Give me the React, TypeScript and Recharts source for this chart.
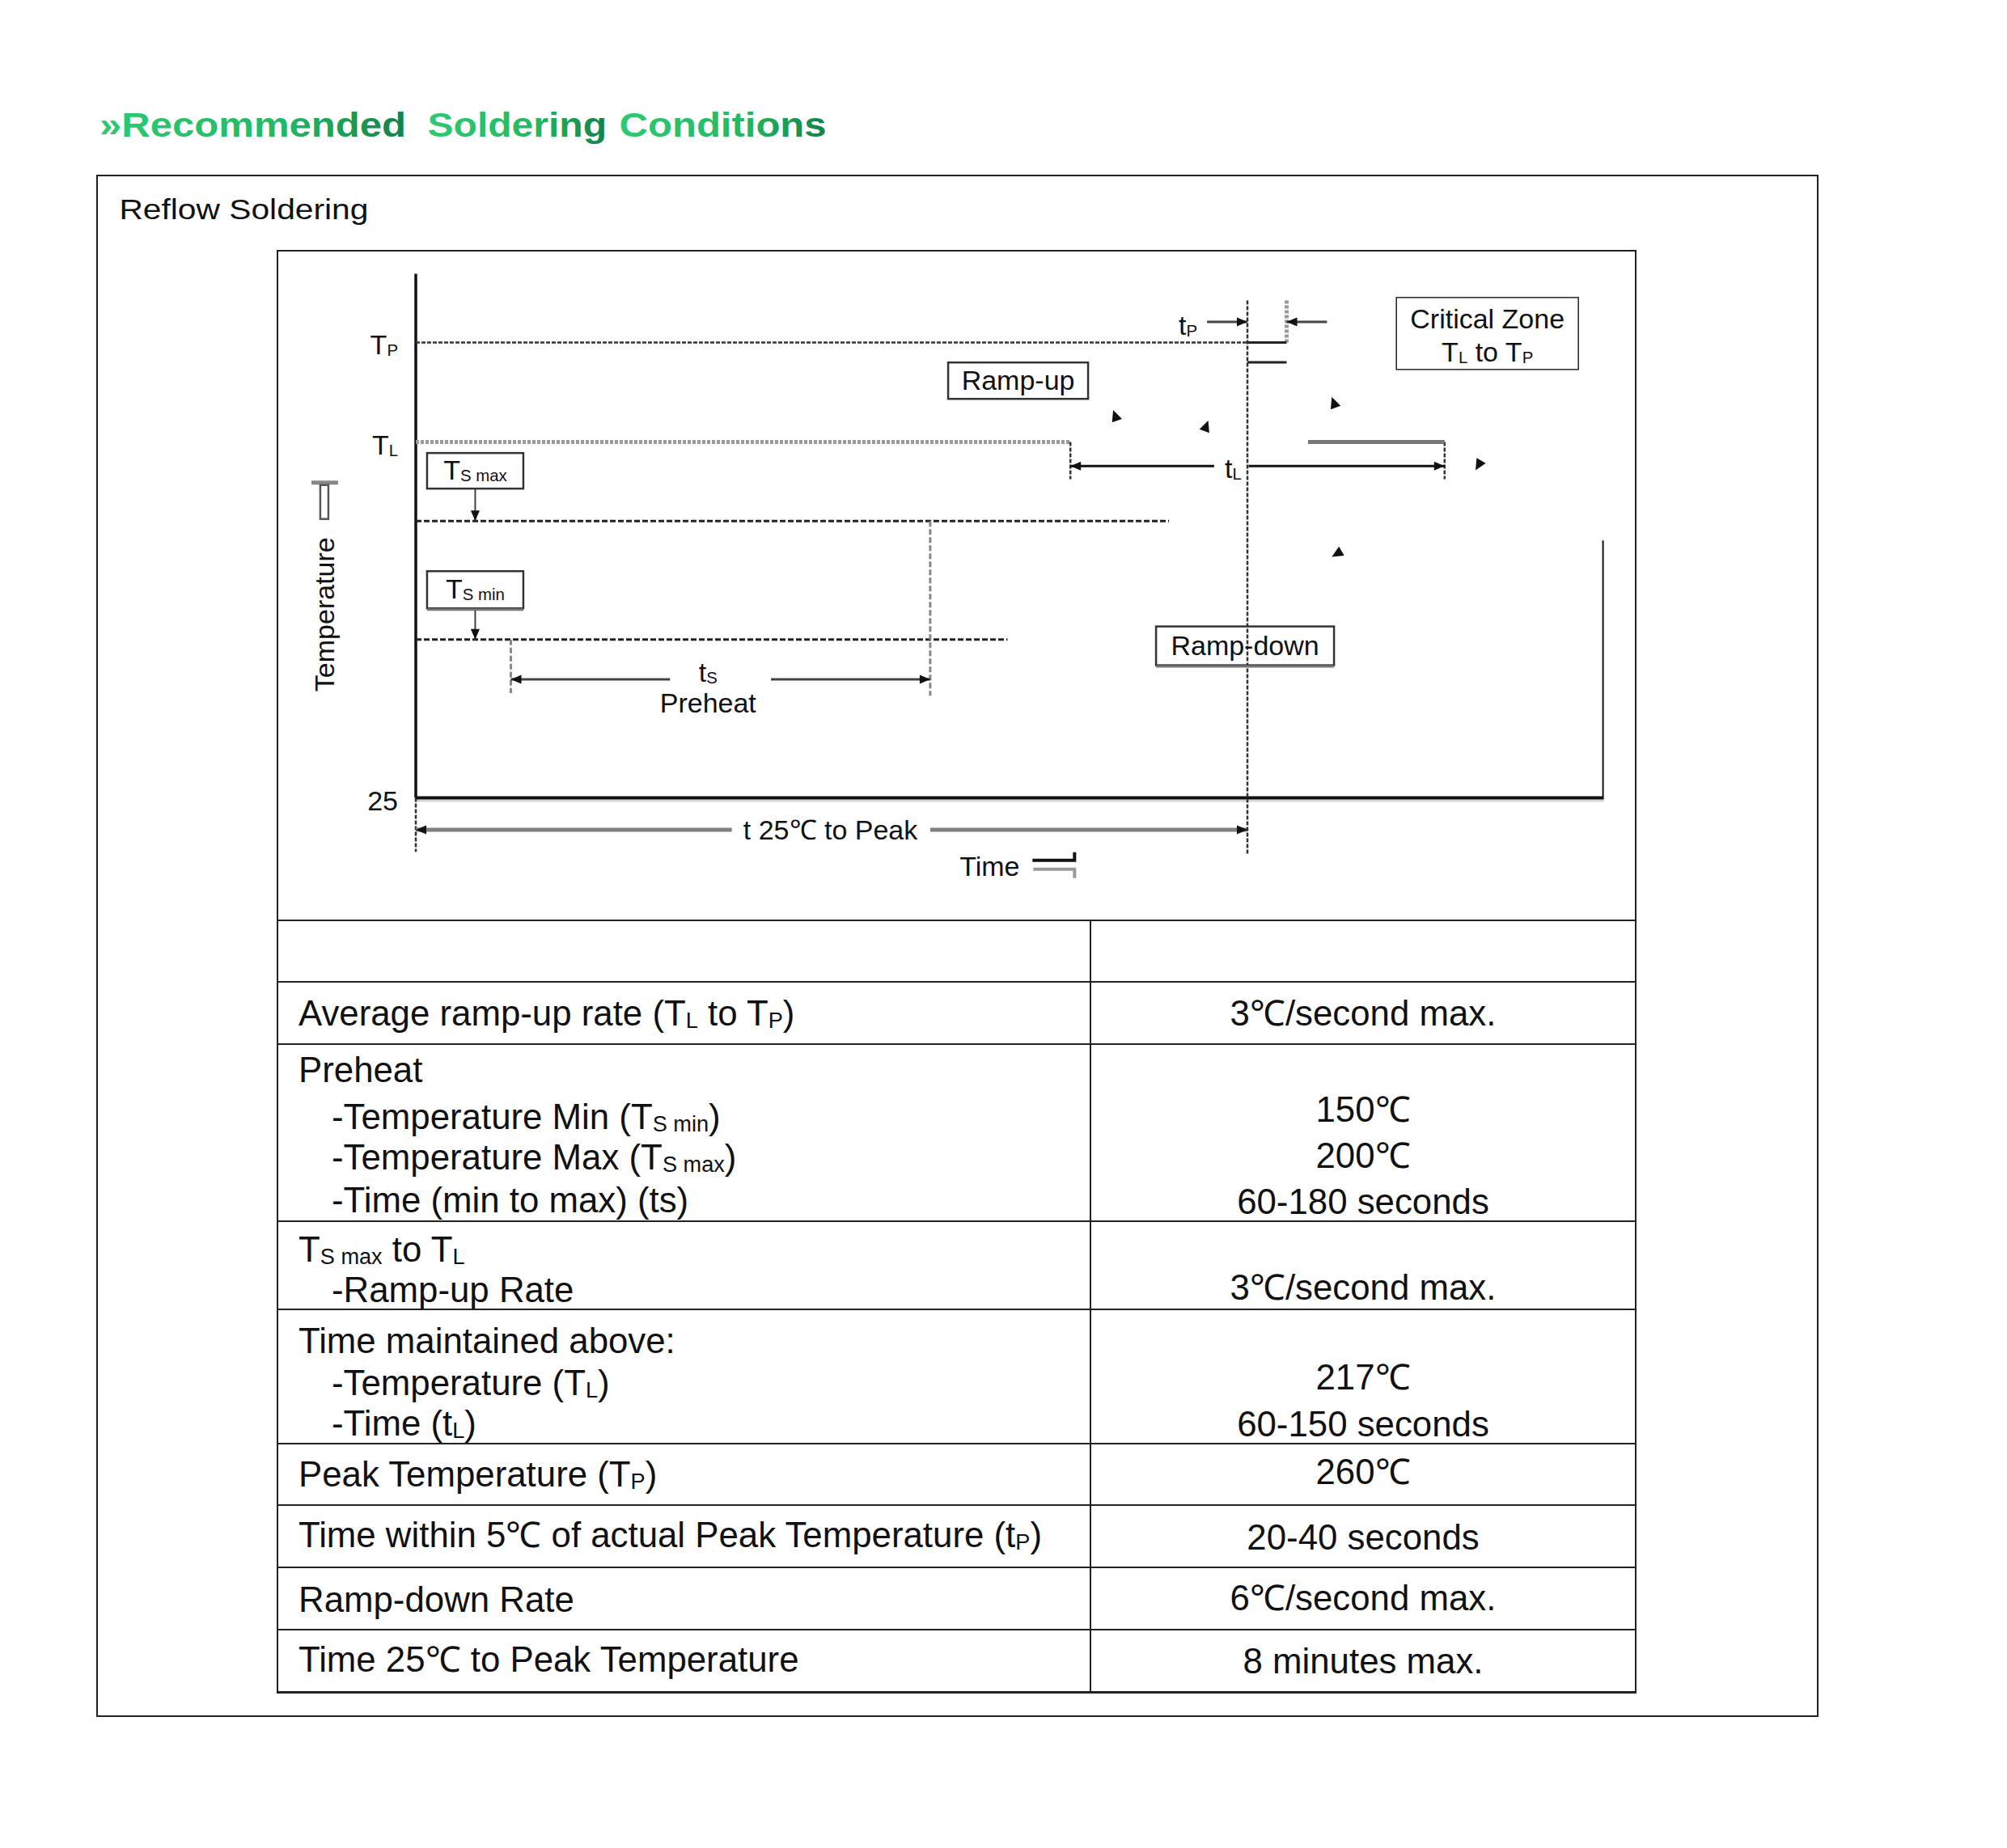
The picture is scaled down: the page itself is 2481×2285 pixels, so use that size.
import React from "react";
import { ComposedChart, Line, XAxis, YAxis, ReferenceLine, ReferenceDot } from "recharts";

const FONT = '"Liberation Sans", Arial, Helvetica, sans-serif';
const INK = "#111";
const CHART_FS = 34;
const TABLE_FS = 43.8;

// schematic profile: time runs 0..100 (0 = leaving 25℃), temperature 0 (25℃) .. 100 (top of axis)
const T_P = 86.9;
const T_L = 67.9;
const TS_MAX = 52.8;
const TS_MIN = 30.2;

const TS_START = 8.0;
const TS_END = 43.3;
const TL_START = 55.1;
const PEAK = 70.0;
const TP_END = 73.3;
const TL_END = 86.6;

const TEMP_TICKS = [0, T_L, T_P];
const TEMP_TICK_LABELS = [["25"], ["T", "_L"], ["T", "_P"]];

// baseline and right edge of the profile frame
const FRAME = [
  { t: 0, v: 0 },
  { t: 100, v: 0 },
  { t: 100, v: 49.1 },
];

// [x1, y1, x2, y2, style]
const GUIDES: [number, number, number, number, string][] = [
  [0, 0, 0, 100, "axis"],
  [0, T_P, PEAK, T_P, "fine"],
  [0, T_L, TL_START, T_L, "grayDot"],
  [0, TS_MAX, 63.4, TS_MAX, "bold"],
  [0, TS_MIN, 49.8, TS_MIN, "bold"],
  [TS_END, TS_MAX, TS_END, 19.5, "grayDash"],
  [TS_START, TS_MIN, TS_START, 20.0, "grayDash"],
  [TL_START, T_L, TL_START, 60.8, "fine"],
  [TL_END, T_L, TL_END, 60.8, "fine"],
  [TP_END, 94.9, TP_END, T_P, "grayDot"],
  [PEAK, T_P, TP_END, T_P, "solid"],
  [PEAK, 83.1, TP_END, 83.1, "solid"],
  [75.1, T_L, TL_END, T_L, "graySolid"],
  [5.0, 59.0, 5.0, TS_MAX, "pointer"],
  [5.0, 36.1, 5.0, TS_MIN, "pointer"],
  [0, 0, 0, -10.3, "fine"],
];

// peak line drawn last so it crosses the Ramp-down box
const PEAK_LINE: [number, number, number, number] = [PEAK, 94.9, PEAK, -10.7];

// dimension arrows: [y, from, to, gapStart, gapEnd, style]
const SPANS: [number, number, number, number, number, string][] = [
  [22.6, TS_START, TS_END, 21.4, 29.9, "dark"],
  [-6.1, 0, PEAK, 26.6, 43.3, "grayThick"],
  [63.3, TL_START, TL_END, 67.2, 70.1, "black"],
];

// tP inward arrows: [y, tail, tip]
const TP_ARROWS: [number, number, number][] = [
  [90.8, 66.6, PEAK],
  [90.8, 76.7, TP_END],
];

// loose arrowheads along the (missing) profile: [t, v, direction deg]
const STRAY_HEADS: [number, number, number][] = [
  [58.7, 74.0, 250],
  [66.7, 72.0, 290],
  [77.1, 76.5, 250],
  [89.2, 62.5, 120],
  [77.1, 46.0, 150],
];

const NOTES: { t: number; v: number; parts: string[] }[] = [
  { t: 24.6, v: 24.0, parts: ["t", "_S"] },
  { t: 24.6, v: 18.1, parts: ["Preheat"] },
  { t: 34.9, v: -6.1, parts: ["t 25℃ to Peak"] },
  { t: 68.8, v: 62.9, parts: ["t", "_L"] },
  { t: 65.0, v: 90.2, parts: ["t", "_P"] },
];

const BOXES: { id: string; t: number; v: number; parts: string[] }[] = [
  { id: "tsMax", t: 5.0, v: 62.4, parts: ["T", "_S max"] },
  { id: "tsMin", t: 5.0, v: 39.7, parts: ["T", "_S min"] },
  { id: "rampUp", t: 50.7, v: 79.6, parts: ["Ramp-up"] },
  { id: "rampDown", t: 69.8, v: 29.0, parts: ["Ramp-down"] },
];
const BOX_SIZE: Record<string, [number, number]> = {
  tsMax: [119, 44],
  tsMin: [119, 46],
  rampUp: [173, 45],
  rampDown: [220, 48],
};
const BOX_SHADOW = ["tsMin", "rampDown"];

const CRITICAL = { t: 90.2, v: 88.6 };
const CRITICAL_LINES = [["Critical Zone"], ["T", "_L", " to T", "_P"]];

const TIME_LABEL = { t: 48.3, v: -13.0 };
const TEMP_LABEL = { t: -7.7, v: 35.0 };

const STROKES: Record<string, any> = {
  axis: { stroke: "#111", strokeWidth: 3.5 },
  fine: { stroke: "#333", strokeWidth: 2.5, strokeDasharray: "5 2" },
  bold: { stroke: "#222", strokeWidth: 3, strokeDasharray: "7 3" },
  grayDot: { stroke: "#9a9a9a", strokeWidth: 5, strokeDasharray: "4 2" },
  grayDash: { stroke: "#888", strokeWidth: 3, strokeDasharray: "7 3" },
  solid: { stroke: "#222", strokeWidth: 3 },
  graySolid: { stroke: "#777", strokeWidth: 5 },
  pointer: { stroke: "#444", strokeWidth: 2 },
  dark: { stroke: "#444", strokeWidth: 3 },
  grayThick: { stroke: "#808080", strokeWidth: 5 },
  black: { stroke: "#111", strokeWidth: 3 },
  shadow: { stroke: "#d4d4d4", strokeWidth: 3 },
};

// table
const ROW_EDGES = [1138, 1214, 1291, 1510, 1619, 1785, 1861, 1938, 2015, 2092];
const TABLE_LEFT = [
  ["Average ramp-up rate (T", "_L", " to T", "_P", ")"],
  ["Preheat"],
  ["-Temperature Min (T", "_S min", ")"],
  ["-Temperature Max (T", "_S max", ")"],
  ["-Time (min to max) (ts)"],
  ["T", "_S max", " to T", "_L"],
  ["-Ramp-up Rate"],
  ["Time maintained above:"],
  ["-Temperature (T", "_L", ")"],
  ["-Time (t", "_L", ")"],
  ["Peak Temperature (T", "_P", ")"],
  ["Time within 5℃ of actual Peak Temperature (t", "_P", ")"],
  ["Ramp-down Rate"],
  ["Time 25℃ to Peak Temperature"],
];
const TABLE_LEFT_INDENT = [0, 0, 1, 1, 1, 0, 1, 0, 1, 1, 0, 0, 0, 0];
const TABLE_LEFT_Y = [1252, 1322, 1380, 1430, 1483, 1544, 1594, 1657, 1709, 1759, 1822, 1897, 1977, 2051];
const TABLE_RIGHT = [
  "3℃/second max.",
  "150℃",
  "200℃",
  "60-180 seconds",
  "3℃/second max.",
  "217℃",
  "60-150 seconds",
  "260℃",
  "20-40 seconds",
  "6℃/second max.",
  "8 minutes max.",
];
const TABLE_RIGHT_Y = [1252, 1371, 1428, 1485, 1591, 1702, 1760, 1819, 1900, 1975, 2053];

function richSvg(parts: string[], size: number) {
  let down = false;
  return parts.map((p, i) => {
    const sub = p.startsWith("_");
    const txt = sub ? p.slice(1) : p;
    let dy: number | undefined;
    if (sub && !down) {
      dy = 2;
      down = true;
    } else if (!sub && down) {
      dy = -2;
      down = false;
    }
    return (
      <tspan key={i} dy={dy} fontSize={sub ? size * 0.6 : size}>
        {txt}
      </tspan>
    );
  });
}

function richHtml(parts: string[]) {
  return parts.map((p, i) =>
    p.startsWith("_") ? (
      <span key={i} style={{ fontSize: "0.62em", verticalAlign: "-0.12em" }}>
        {p.slice(1)}
      </span>
    ) : (
      <span key={i}>{p}</span>
    )
  );
}

function Head({ cx, cy, dir, len = 13, half = 5.5, fill = "#111" }: any) {
  const a = (dir * Math.PI) / 180;
  const ux = Math.cos(a);
  const uy = Math.sin(a);
  const bx = cx - ux * len;
  const by = cy - uy * len;
  const pts = [
    [cx, cy],
    [bx - uy * half, by + ux * half],
    [bx + uy * half, by - ux * half],
  ];
  return <polygon points={pts.map((p) => p.join(",")).join(" ")} fill={fill} />;
}

function TempTick(props: any) {
  const { x, y, payload } = props;
  const i = TEMP_TICKS.indexOf(payload.value);
  const parts = TEMP_TICK_LABELS[i] ?? [String(payload.value)];
  return (
    <text x={x} y={y + 15} textAnchor="end" fontSize={CHART_FS} fontFamily={FONT} fill={INK}>
      {richSvg(parts, CHART_FS)}
    </text>
  );
}

function seg(x1: number, y1: number, x2: number, y2: number) {
  return [
    { x: x1, y: y1 },
    { x: x2, y: y2 },
  ] as any;
}

function ReflowChart() {
  const heads: [number, number, number][] = [];
  SPANS.forEach(([y, a, b]) => {
    heads.push([a, y, 180], [b, y, 0]);
  });
  TP_ARROWS.forEach(([y, tail, tip]) => heads.push([tip, y, tip > tail ? 0 : 180]));
  heads.push([5.0, TS_MAX, 90], [5.0, TS_MIN, 90]);

  return (
    <ComposedChart
      width={1679}
      height={828}
      data={FRAME}
      margin={{ top: 28.5, right: 39.4, bottom: 21.9, left: 0 }}
    >
      <XAxis type="number" dataKey="t" domain={[0, 100]} hide allowDataOverflow />
      <YAxis
        type="number"
        domain={[-20, 100]}
        ticks={TEMP_TICKS}
        interval={0}
        width={171}
        axisLine={false}
        tickLine={false}
        tickSize={0}
        tickMargin={22}
        tick={(p: any) => <TempTick {...p} />}
        allowDataOverflow
      />

      {/* light shadow under the 25℃ baseline */}
      <ReferenceLine segment={seg(0, -0.55, 100, -0.55)} ifOverflow="visible" {...STROKES.shadow} />

      {GUIDES.map(([x1, y1, x2, y2, k], i) => (
        <ReferenceLine key={`g${i}`} segment={seg(x1, y1, x2, y2)} ifOverflow="visible" {...STROKES[k]} />
      ))}

      {SPANS.map(([y, a, b, g1, g2, k], i) => (
        <ReferenceLine key={`sa${i}`} segment={seg(a, y, g1, y)} ifOverflow="visible" {...STROKES[k]} />
      ))}
      {SPANS.map(([y, a, b, g1, g2, k], i) => (
        <ReferenceLine key={`sb${i}`} segment={seg(g2, y, b, y)} ifOverflow="visible" {...STROKES[k]} />
      ))}
      {TP_ARROWS.map(([y, tail, tip], i) => (
        <ReferenceLine key={`tp${i}`} segment={seg(tail, y, tip, y)} ifOverflow="visible" {...STROKES.dark} />
      ))}

      <Line
        dataKey="v"
        type="linear"
        stroke="#111"
        strokeWidth={4}
        dot={false}
        activeDot={false}
        isAnimationActive={false}
      />

      {BOXES.map((b) => {
        const [w, h] = BOX_SIZE[b.id];
        return (
          <ReferenceDot
            key={b.id}
            x={b.t}
            y={b.v}
            r={1}
            ifOverflow="visible"
            shape={(p: any) => (
              <g>
                <rect
                  x={p.cx - w / 2}
                  y={p.cy - h / 2}
                  width={w}
                  height={h}
                  fill={b.id === "rampDown" ? "none" : "#fff"}
                  stroke="#333"
                  strokeWidth={2.5}
                />
                {BOX_SHADOW.includes(b.id) && (
                  <line
                    x1={p.cx - w / 2}
                    x2={p.cx + w / 2}
                    y1={p.cy + h / 2 + 1.5}
                    y2={p.cy + h / 2 + 1.5}
                    stroke="#777"
                    strokeWidth={3}
                  />
                )}
                <text
                  x={p.cx}
                  y={p.cy + 11}
                  textAnchor="middle"
                  fontSize={CHART_FS}
                  fontFamily={FONT}
                  fill={INK}
                >
                  {richSvg(b.parts, CHART_FS)}
                </text>
              </g>
            )}
          />
        );
      })}

      <ReferenceDot
        x={CRITICAL.t}
        y={CRITICAL.v}
        r={1}
        ifOverflow="visible"
        shape={(p: any) => (
          <g>
            <rect x={p.cx - 112.5} y={p.cy - 44.5} width={225} height={89} fill="#fff" stroke="#222" strokeWidth={1.5} />
            {CRITICAL_LINES.map((parts, i) => (
              <text
                key={i}
                x={p.cx}
                y={p.cy + (i === 0 ? -6 : 35)}
                textAnchor="middle"
                fontSize={CHART_FS}
                fontFamily={FONT}
                fill={INK}
              >
                {richSvg(parts, CHART_FS)}
              </text>
            ))}
          </g>
        )}
      />

      <ReferenceLine segment={seg(...PEAK_LINE)} ifOverflow="visible" {...STROKES.fine} />

      {NOTES.map((n, i) => (
        <ReferenceDot
          key={`n${i}`}
          x={n.t}
          y={n.v}
          r={1}
          ifOverflow="visible"
          shape={(p: any) => (
            <text x={p.cx} y={p.cy + 12} textAnchor="middle" fontSize={CHART_FS} fontFamily={FONT} fill={INK}>
              {richSvg(n.parts, CHART_FS)}
            </text>
          )}
        />
      ))}

      {heads.map(([t, v, d], i) => (
        <ReferenceDot key={`h${i}`} x={t} y={v} r={1} ifOverflow="visible" shape={(p: any) => <Head cx={p.cx} cy={p.cy} dir={d} />} />
      ))}
      {STRAY_HEADS.map(([t, v, d], i) => (
        <ReferenceDot
          key={`s${i}`}
          x={t}
          y={v}
          r={1}
          ifOverflow="visible"
          shape={(p: any) => <Head cx={p.cx} cy={p.cy} dir={d} len={14} half={6.5} />}
        />
      ))}

      <ReferenceDot
        x={TIME_LABEL.t}
        y={TIME_LABEL.v}
        r={1}
        ifOverflow="visible"
        shape={(p: any) => (
          <g>
            <text x={p.cx} y={p.cy + 12} textAnchor="middle" fontSize={CHART_FS} fontFamily={FONT} fill={INK}>
              Time
            </text>
            <path
              d={`M${p.cx + 54} ${p.cy + 4} H${p.cx + 105} V${p.cy + 15}`}
              fill="none"
              stroke="#999"
              strokeWidth={4}
            />
            <path
              d={`M${p.cx + 53} ${p.cy - 7} H${p.cx + 105} V${p.cy - 17}`}
              fill="none"
              stroke="#111"
              strokeWidth={4}
            />
          </g>
        )}
      />

      <ReferenceDot
        x={TEMP_LABEL.t}
        y={TEMP_LABEL.v}
        r={1}
        ifOverflow="visible"
        shape={(p: any) => (
          <g>
            <text
              x={p.cx}
              y={p.cy + 12}
              textAnchor="middle"
              fontSize={CHART_FS}
              fontFamily={FONT}
              fill={INK}
              transform={`rotate(-90 ${p.cx} ${p.cy})`}
            >
              Temperature
            </text>
            <line x1={p.cx - 16} x2={p.cx + 17} y1={p.cy - 163} y2={p.cy - 163} stroke="#888" strokeWidth={5} />
            <rect
              x={p.cx - 5}
              y={p.cy - 160}
              width={10}
              height={42}
              fill="none"
              stroke="#555"
              strokeWidth={2.5}
            />
          </g>
        )}
      />
    </ComposedChart>
  );
}

const TITLE_WORDS = ["»Recommended", "Soldering", "Conditions"];

export default function App() {
  return (
    <div
      style={{
        position: "absolute",
        left: 0,
        top: 0,
        width: 2481,
        height: 2285,
        background: "#fff",
        fontFamily: FONT,
        color: INK,
        overflow: "hidden",
      }}
    >
      <svg width={2481} height={300} style={{ position: "absolute", left: 0, top: 0 }}>
        <defs>
          <linearGradient id="titleGreen" x1="0" y1="0" x2="1" y2="0">
            <stop offset="0" stopColor="#2fc972" />
            <stop offset="0.6" stopColor="#22b963" />
            <stop offset="1" stopColor="#148247" />
          </linearGradient>
        </defs>
        {TITLE_WORDS.map((w, i) => (
          <text
            key={w}
            x={[123, 528.5, 765.6][i]}
            y={169}
            fontSize={43}
            fontWeight="bold"
            fontFamily={FONT}
            fill="url(#titleGreen)"
            textLength={[379, 221.5, 256][i]}
            lengthAdjust="spacingAndGlyphs"
          >
            {w}
          </text>
        ))}
        <text
          x={147.4}
          y={271}
          fontSize={35}
          fontFamily={FONT}
          fill={INK}
          textLength={308}
          lengthAdjust="spacingAndGlyphs"
        >
          Reflow Soldering
        </text>
      </svg>

      {/* outer frame */}
      <div
        style={{
          position: "absolute",
          left: 119,
          top: 216,
          width: 2129,
          height: 1907,
          border: "2px solid #222",
          boxSizing: "border-box",
        }}
      />
      {/* inner frame */}
      <div
        style={{
          position: "absolute",
          left: 342,
          top: 309,
          width: 1681,
          height: 1785,
          border: "2px solid #222",
          boxSizing: "border-box",
        }}
      />

      <div style={{ position: "absolute", left: 343, top: 310 }}>
        <ReflowChart />
      </div>

      {ROW_EDGES.map((y) => (
        <div key={y} style={{ position: "absolute", left: 343, top: y - 1, width: 1679, height: 2, background: "#222" }} />
      ))}
      <div style={{ position: "absolute", left: 1347, top: 1138, width: 2, height: 954, background: "#222" }} />

      {TABLE_LEFT.map((parts, i) => (
        <div
          key={`l${i}`}
          style={{
            position: "absolute",
            left: TABLE_LEFT_INDENT[i] ? 410 : 369,
            top: TABLE_LEFT_Y[i] - 21,
            fontSize: TABLE_FS,
            lineHeight: `${TABLE_FS}px`,
            whiteSpace: "nowrap",
          }}
        >
          {richHtml(parts)}
        </div>
      ))}
      {TABLE_RIGHT.map((txt, i) => (
        <div
          key={`r${i}`}
          style={{
            position: "absolute",
            left: 1348,
            width: 674,
            textAlign: "center",
            top: TABLE_RIGHT_Y[i] - 21,
            fontSize: TABLE_FS,
            lineHeight: `${TABLE_FS}px`,
            whiteSpace: "nowrap",
          }}
        >
          {txt}
        </div>
      ))}
    </div>
  );
}
